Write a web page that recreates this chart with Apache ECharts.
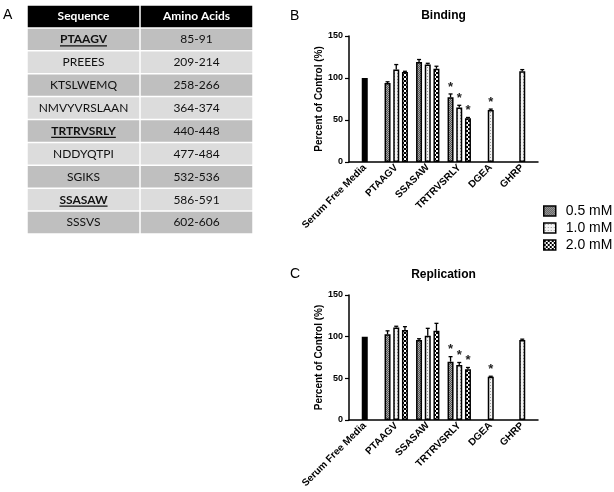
<!DOCTYPE html>
<html><head><meta charset="utf-8">
<script src="https://cdn.jsdelivr.net/npm/echarts@6/dist/echarts.min.js"></script>
<style>html,body{margin:0;padding:0;background:#fff}#c{width:614px;height:492px}</style>
</head><body><div id="c"></div>
<script>
// ---------- data ----------
const categories = ['Serum Free Media', 'PTAAGV', 'SSASAW', 'TRTRVSRLY', 'DGEA', 'GHRP'];
const doses = ['0.5 mM', '1.0 mM', '2.0 mM'];
const yTicks = [0, 50, 100, 150];

const bindingControl = [100, '-', '-', '-', '-', '-'];
const binding05 = ['-', 94, 119, 77, '-', '-'];
const binding10 = ['-', 110, 116, 65, 62, 108];
const binding20 = ['-', 107, 111, 52, '-', '-'];
const bindingErrControl = [0, 0, 0, 0, 0, 0];
const bindingErr05 = [0, 1.5, 3, 4, 0, 0];
const bindingErr10 = [0, 6, 1.5, 2.5, 1, 2];
const bindingErr20 = [0, 1, 3, 1, 0, 0];
const bindingSig05 = [0, 0, 0, 1, 0, 0];
const bindingSig10 = [0, 0, 0, 1, 1, 0];
const bindingSig20 = [0, 0, 0, 1, 0, 0];

const replicationControl = [100, '-', '-', '-', '-', '-'];
const replication05 = ['-', 103, 96, 70, '-', '-'];
const replication10 = ['-', 111, 101, 66, 52, 96];
const replication20 = ['-', 108, 107, 61, '-', '-'];
const replicationErrControl = [0, 0, 0, 0, 0, 0];
const replicationErr05 = [0, 4, 1.5, 6, 0, 0];
const replicationErr10 = [0, 1.5, 9, 3, 0.5, 1];
const replicationErr20 = [0, 4, 9, 2, 0, 0];
const replicationSig05 = [0, 0, 0, 1, 0, 0];
const replicationSig10 = [0, 0, 0, 1, 1, 0];
const replicationSig20 = [0, 0, 0, 1, 0, 0];

const tableHeaders = ['Sequence', 'Amino Acids'];
const sequences = ['PTAAGV', 'PREEES', 'KTSLWEMQ', 'NMVYVRSLAAN', 'TRTRVSRLY', 'NDDYQTPI', 'SGIKS', 'SSASAW', 'SSSVS'];
const aminoAcids = ['85-91', '209-214', '258-266', '364-374', '440-448', '477-484', '532-536', '586-591', '602-606'];
const boldSequences = ['PTAAGV', 'TRTRVSRLY', 'SSASAW'];

const panelTitles = ['Binding', 'Replication'];
const panelLetters = ['A', 'B', 'C'];
const yAxisName = 'Percent of Control (%)';

// ---------- styling helpers ----------
const ARIAL = "'Liberation Sans', Arial, sans-serif";
function makePattern(size, draw) {
  const cv = document.createElement('canvas');
  cv.width = cv.height = size;
  draw(cv.getContext('2d'));
  return { image: cv, repeat: 'repeat' };
}
const pat05 = makePattern(2, ctx => {
  ctx.fillStyle = '#555'; ctx.fillRect(0, 0, 2, 2);
  ctx.fillStyle = '#a8a8a8'; ctx.fillRect(0, 0, 1, 1); ctx.fillRect(1, 1, 1, 1);
});
const pat10 = makePattern(3, ctx => {
  ctx.fillStyle = '#f3f3f3'; ctx.fillRect(0, 0, 3, 3);
  ctx.fillStyle = '#999'; ctx.fillRect(1, 1, 1, 1);
});
const pat20 = makePattern(4, ctx => {
  ctx.fillStyle = '#fff'; ctx.fillRect(0, 0, 4, 4);
  ctx.fillStyle = '#000'; ctx.fillRect(0, 0, 2, 2); ctx.fillRect(2, 2, 2, 2);
});
const patterns = [pat05, pat10, pat20];

const BAR_W = 6, BAR_GAP = 0.45;
const SPACING = BAR_W * (1 + BAR_GAP);

const grids = [
  { left: 349, top: 36, width: 189, height: 126, outerBoundsMode: 'none', containLabel: false },
  { left: 349, top: 295, width: 189, height: 125, outerBoundsMode: 'none', containLabel: false },
  { left: 27, top: 5, width: 226, height: 229, outerBoundsMode: 'none', containLabel: false }
];

function chartXAxis(gi) {
  return {
    type: 'category', gridIndex: gi, data: categories,
    axisLine: { lineStyle: { color: '#000', width: 1.5 } },
    axisTick: { alignWithLabel: true, length: 4, lineStyle: { color: '#000', width: 1.2 } },
    axisLabel: { rotate: 45, interval: 0, margin: 4, fontSize: 10, fontWeight: 'bold', color: '#000', fontFamily: ARIAL },
    splitLine: { show: false }
  };
}
function chartYAxis(gi) {
  return {
    type: 'value', gridIndex: gi, min: yTicks[0], max: yTicks[yTicks.length - 1], interval: yTicks[1] - yTicks[0],
    name: yAxisName, nameLocation: 'middle', nameGap: 24,
    nameTextStyle: { fontSize: 10, fontWeight: 'bold', color: '#000', fontFamily: ARIAL },
    axisLine: { show: true, lineStyle: { color: '#000', width: 1.5 } },
    axisTick: { show: true, length: 4, lineStyle: { color: '#000', width: 1.2 } },
    axisLabel: { fontSize: 9, fontWeight: 'bold', color: '#000', margin: 6, fontFamily: ARIAL },
    splitLine: { show: false }
  };
}

function panelSeries(gi, control, vals, errs, errControl, sigs) {
  const out = [];
  vals.forEach((arr, d) => {
    let data = arr.slice();
    if (d === 1) {
      data = arr.map((v, i) => control[i] !== '-' ? { value: control[i], itemStyle: { color: '#000' } } : v);
    }
    out.push({
      type: 'bar', name: doses[d], xAxisIndex: gi, yAxisIndex: gi, data: data,
      barWidth: BAR_W, barGap: (BAR_GAP * 100) + '%',
      itemStyle: { color: patterns[d], borderColor: '#000', borderWidth: 1.5 },
      emphasis: { disabled: true }, z: 2
    });
  });
  const errData = [];
  vals.forEach((arr, d) => {
    arr.forEach((v, i) => {
      if (v !== '-') errData.push([i, v, errs[d][i], d, sigs[d][i]]);
    });
  });
  control.forEach((v, i) => { if (v !== '-') errData.push([i, v, errControl[i], 1, 0]); });
  out.push({
    type: 'custom', xAxisIndex: gi, yAxisIndex: gi, data: errData, z: 3, silent: true,
    encode: { x: 0, y: 1 },
    renderItem: function (params, api) {
      const cat = api.value(0), val = api.value(1), err = api.value(2), d = api.value(3), sig = api.value(4);
      const base = api.coord([cat, val]);
      const top = api.coord([cat, val + err]);
      const x = base[0] + (d - 1) * SPACING;
      const children = [];
      if (err > 0) {
        children.push({ type: 'line', shape: { x1: x, y1: base[1], x2: x, y2: top[1] }, style: { stroke: '#000', lineWidth: 1.3 } });
        children.push({ type: 'line', shape: { x1: x - 2, y1: top[1], x2: x + 2, y2: top[1] }, style: { stroke: '#000', lineWidth: 1.3 } });
      }
      if (sig) {
        children.push({ type: 'text', style: { text: '*', x: x, y: top[1] - 7, textAlign: 'center', textVerticalAlign: 'middle', fontSize: 13, fontWeight: 'bold', fontFamily: ARIAL, fill: '#222' } });
      }
      return { type: 'group', children: children };
    }
  });
  return out;
}

const series = [].concat(
  panelSeries(0, bindingControl, [binding05, binding10, binding20], [bindingErr05, bindingErr10, bindingErr20], bindingErrControl, [bindingSig05, bindingSig10, bindingSig20]),
  panelSeries(1, replicationControl, [replication05, replication10, replication20], [replicationErr05, replicationErr10, replicationErr20], replicationErrControl, [replicationSig05, replicationSig10, replicationSig20])
);

// ---------- table ----------
const rowKeys = ['header'].concat(sequences);
const tableData = [];
rowKeys.forEach((k, r) => { tableHeaders.forEach((h, c) => tableData.push([c, r])); });
const mctx = document.createElement('canvas').getContext('2d');
series.push({
  type: 'custom', xAxisIndex: 2, yAxisIndex: 2, data: tableData, silent: true,
  renderItem: function (params, api) {
    const c = api.value(0), r = api.value(1);
    const pt = api.coord([c, r]);
    const sz = api.size([1, 1]);
    const isHeader = r === 0;
    const fill = isHeader ? '#000' : (r % 2 === 1 ? '#bfbfbf' : '#dcdcdc');
    const txt = isHeader ? tableHeaders[c] : (c === 0 ? sequences[r - 1] : aminoAcids[r - 1]);
    const bold = isHeader || (c === 0 && boldSequences.indexOf(txt) >= 0);
    const font = (bold ? 'bold ' : '') + '12px Lato';
    const children = [
      { type: 'rect', shape: { x: pt[0] - sz[0] / 2 + 0.75, y: pt[1] - sz[1] / 2 + 0.75, width: sz[0] - 1.5, height: sz[1] - 1.5 }, style: { fill: fill } },
      { type: 'text', style: { text: txt, x: pt[0], y: pt[1], textAlign: 'center', textVerticalAlign: 'middle', fontSize: 12, fontFamily: 'Lato', fontWeight: bold ? 'bold' : 'normal', fill: isHeader ? '#fff' : '#111' } }
    ];
    if (!isHeader && bold) {
      mctx.font = font;
      const w = mctx.measureText(txt).width;
      children.push({ type: 'line', shape: { x1: pt[0] - w / 2, y1: pt[1] + 6.5, x2: pt[0] + w / 2, y2: pt[1] + 6.5 }, style: { stroke: '#111', lineWidth: 1.2 } });
    }
    return { type: 'group', children: children };
  }
});

const option = {
  animation: false,
  backgroundColor: '#fff',
  grid: grids,
  xAxis: [chartXAxis(0), chartXAxis(1), { type: 'category', gridIndex: 2, data: tableHeaders, show: false }],
  yAxis: [chartYAxis(0), chartYAxis(1), { type: 'category', gridIndex: 2, data: rowKeys, inverse: true, show: false }],
  legend: {
    data: doses, orient: 'vertical', left: 538, top: 199, itemWidth: 12, itemHeight: 10, itemGap: 3,
    icon: 'rect', selectedMode: false,
    itemStyle: { borderColor: '#000', borderWidth: 1.5 },
    textStyle: { fontSize: 14, color: '#000', fontFamily: ARIAL, padding: [0, 0, 0, 5] }
  },
  graphic: [
    { type: 'text', x: 443.5, y: 10, style: { text: panelTitles[0], textAlign: 'center', fontSize: 12, fontWeight: 'bold', fontFamily: ARIAL, fill: '#000' } },
    { type: 'text', x: 443.5, y: 269, style: { text: panelTitles[1], textAlign: 'center', fontSize: 12, fontWeight: 'bold', fontFamily: ARIAL, fill: '#000' } },
    { type: 'text', x: 3, y: 8, style: { text: panelLetters[0], fontSize: 14, fontFamily: ARIAL, fill: '#000' } },
    { type: 'text', x: 290, y: 9, style: { text: panelLetters[1], fontSize: 14, fontFamily: ARIAL, fill: '#000' } },
    { type: 'text', x: 290, y: 267, style: { text: panelLetters[2], fontSize: 14, fontFamily: ARIAL, fill: '#000' } }
  ],
  series: series
};
const chart = echarts.init(document.getElementById('c'), null, { renderer: 'canvas' });
chart.setOption(option);
</script>
</body></html>
